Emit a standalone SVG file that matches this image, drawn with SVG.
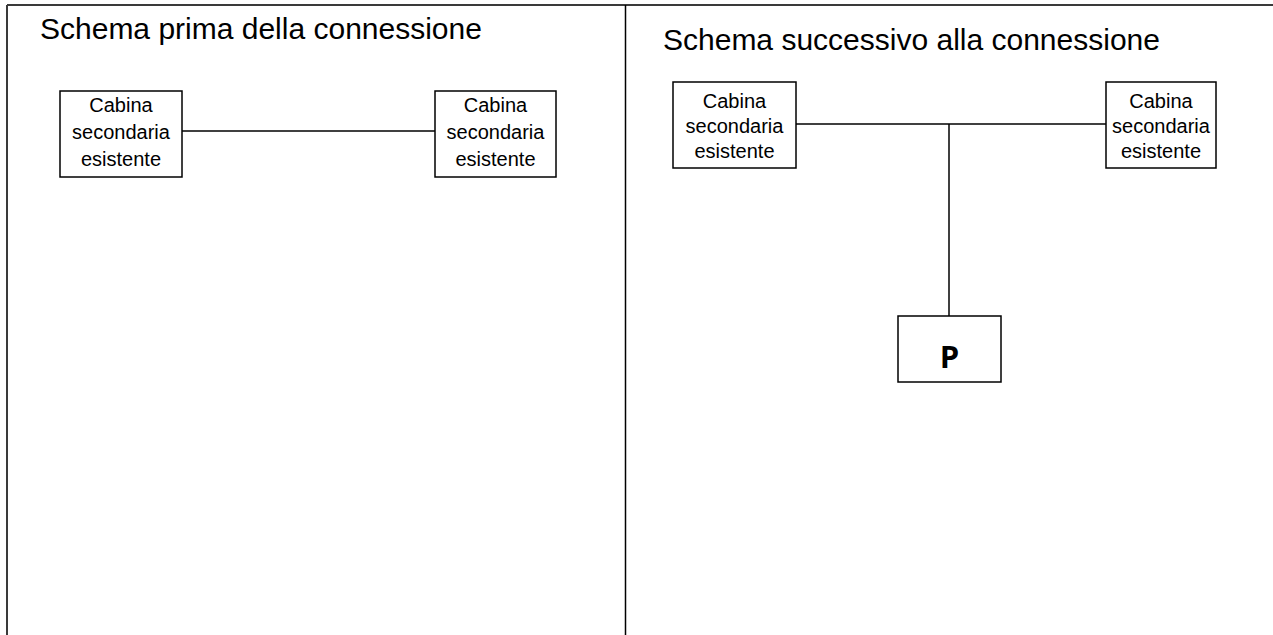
<svg xmlns="http://www.w3.org/2000/svg" width="1273" height="635" viewBox="0 0 1273 635">
<style>
.frame{stroke:#3a3a3a;stroke-width:2;fill:none}
.box{fill:#fff;stroke:#000;stroke-width:1.5}
.wire{stroke:#000;stroke-width:1.5;fill:none}
.title{font-family:"Liberation Sans",Arial,sans-serif;font-size:30px;fill:#000}
.lbl{font-family:"Liberation Sans",Arial,sans-serif;font-size:20px;fill:#000;text-anchor:middle}
.p{font-family:"Open Sans","Liberation Sans",sans-serif;font-size:31px;font-weight:bold;fill:#000;text-anchor:middle}
</style>
<rect width="1273" height="635" fill="#fff"/>
<g id="frame">
<line class="frame" x1="7" y1="5" x2="1273" y2="5"/>
<line class="frame" x1="7" y1="5" x2="7" y2="635"/>
<line x1="625.5" y1="5" x2="625.5" y2="635" stroke="#000" stroke-width="1.5"/>
</g>
<text class="title" x="40" y="39">Schema prima della connessione</text>
<text class="title" x="663" y="50">Schema successivo alla connessione</text>
<g id="connectors">
<line class="wire" x1="182" y1="131" x2="435" y2="131"/>
<line class="wire" x1="796" y1="124" x2="1106" y2="124"/>
<line class="wire" x1="949" y1="124" x2="949" y2="316"/>
</g>
<g id="n1">
<rect class="box" x="60" y="91" width="122" height="86"/>
<text class="lbl" x="121"><tspan x="121" y="112">Cabina</tspan><tspan x="121" y="139">secondaria</tspan><tspan x="121" y="166">esistente</tspan></text>
</g>
<g id="n2">
<rect class="box" x="435" y="91" width="121" height="86"/>
<text class="lbl" x="495.5"><tspan x="495.5" y="112">Cabina</tspan><tspan x="495.5" y="139">secondaria</tspan><tspan x="495.5" y="166">esistente</tspan></text>
</g>
<g id="n3">
<rect class="box" x="673" y="82" width="123" height="86"/>
<text class="lbl" x="734.5"><tspan x="734.5" y="108">Cabina</tspan><tspan x="734.5" y="133">secondaria</tspan><tspan x="734.5" y="158">esistente</tspan></text>
</g>
<g id="n4">
<rect class="box" x="1106" y="82" width="110" height="86"/>
<text class="lbl" x="1161"><tspan x="1161" y="108">Cabina</tspan><tspan x="1161" y="133">secondaria</tspan><tspan x="1161" y="158">esistente</tspan></text>
</g>
<g id="n5">
<rect class="box" x="898" y="316" width="103" height="66"/>
<text class="p" x="949.5" y="368">P</text>
</g>
</svg>
